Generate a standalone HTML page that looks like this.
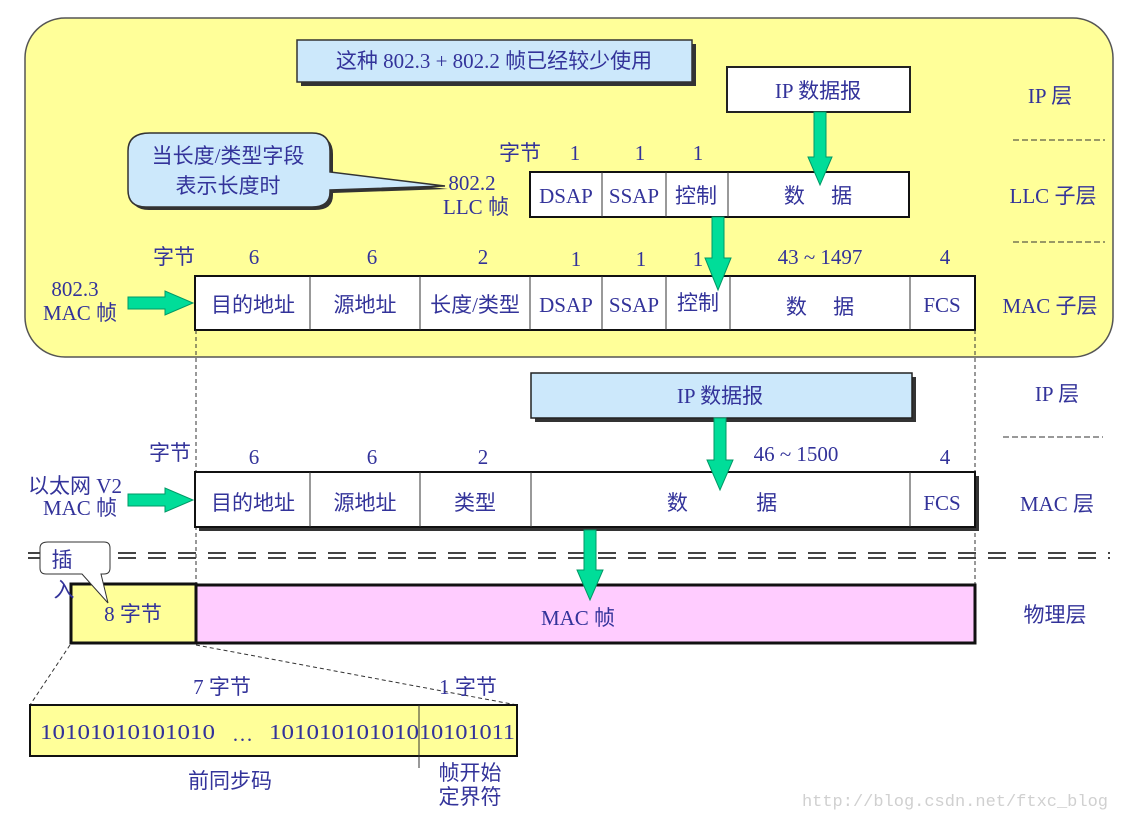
<!DOCTYPE html>
<html><head><meta charset="utf-8"><style>
html,body{margin:0;padding:0;background:#fff;}
svg{display:block;}
text{font-family:"Liberation Serif","Noto Sans CJK SC",serif;font-size:21px;fill:#33339a;}
</style></head><body>
<svg width="1135" height="817" viewBox="0 0 1135 817" xmlns="http://www.w3.org/2000/svg">
<rect x="25" y="18" width="1088" height="339" rx="40" fill="#ffff99" stroke="#555" stroke-width="1.5"/>
<rect x="301" y="44" width="395" height="42" fill="#333"/>
<rect x="297" y="40" width="395" height="42" fill="#cce8fb" stroke="#333" stroke-width="1.5"/>
<text x="494" y="68" text-anchor="middle">这种 802.3 + 802.2 帧已经较少使用</text>
<rect x="727" y="67" width="183" height="45" fill="#fff" stroke="#222" stroke-width="2"/>
<text x="818" y="98" text-anchor="middle">IP 数据报</text>
<text x="1050" y="103" text-anchor="middle">IP 层</text>
<line x1="1013" y1="140" x2="1105" y2="140" stroke="#333" stroke-dasharray="6,3"/>
<text x="1053" y="203" text-anchor="middle">LLC 子层</text>
<line x1="1013" y1="242" x2="1105" y2="242" stroke="#333" stroke-dasharray="6,3"/>
<text x="1050" y="313" text-anchor="middle">MAC 子层</text>
<path d="M150,133 H312 Q330,133 330,151 V172 L445,186 L330,190 V192 Q330,207 312,207 H146 Q128,207 128,190 V151 Q128,133 150,133 Z" fill="#333" transform="translate(3,3)"/>
<path d="M150,133 H312 Q330,133 330,151 V172 L445,186 L330,190 V192 Q330,207 312,207 H146 Q128,207 128,190 V151 Q128,133 150,133 Z" fill="#cce8fb" stroke="#333" stroke-width="1.5"/>
<text x="228" y="163" text-anchor="middle">当长度/类型字段</text>
<text x="228" y="193" text-anchor="middle">表示长度时</text>
<text x="472" y="190" text-anchor="middle">802.2</text>
<text x="476" y="214" text-anchor="middle">LLC 帧</text>
<text x="520" y="160" text-anchor="middle">字节</text>
<text x="575" y="160" text-anchor="middle">1</text>
<text x="640" y="160" text-anchor="middle">1</text>
<text x="698" y="160" text-anchor="middle">1</text>
<rect x="530" y="172" width="379" height="45" fill="#fff" stroke="#111" stroke-width="2"/>
<g stroke="#333" stroke-width="1"><line x1="602" y1="172" x2="602" y2="217"/><line x1="666" y1="172" x2="666" y2="217"/><line x1="728" y1="172" x2="728" y2="217"/></g>
<text x="566" y="203" text-anchor="middle">DSAP</text>
<text x="634" y="203" text-anchor="middle">SSAP</text>
<text x="696" y="203" text-anchor="middle">控制</text>
<text x="818" y="203" text-anchor="middle">数　 据</text>
<text x="174" y="264" text-anchor="middle">字节</text>
<text x="254" y="264" text-anchor="middle">6</text>
<text x="372" y="264" text-anchor="middle">6</text>
<text x="483" y="264" text-anchor="middle">2</text>
<text x="576" y="266" text-anchor="middle">1</text>
<text x="641" y="266" text-anchor="middle">1</text>
<text x="698" y="266" text-anchor="middle">1</text>
<text x="820" y="264" text-anchor="middle">43 ~ 1497</text>
<text x="945" y="264" text-anchor="middle">4</text>
<rect x="195" y="276" width="780" height="54" fill="#fff" stroke="#111" stroke-width="2"/>
<g stroke="#333" stroke-width="1"><line x1="310" y1="276" x2="310" y2="330"/><line x1="420" y1="276" x2="420" y2="330"/><line x1="530" y1="276" x2="530" y2="330"/><line x1="602" y1="276" x2="602" y2="330"/><line x1="666" y1="276" x2="666" y2="330"/><line x1="730" y1="276" x2="730" y2="330"/><line x1="910" y1="276" x2="910" y2="330"/></g>
<text x="253" y="312" text-anchor="middle">目的地址</text>
<text x="365" y="312" text-anchor="middle">源地址</text>
<text x="475" y="312" text-anchor="middle">长度/类型</text>
<text x="566" y="312" text-anchor="middle">DSAP</text>
<text x="634" y="312" text-anchor="middle">SSAP</text>
<text x="698" y="310" text-anchor="middle">控制</text>
<text x="820" y="314" text-anchor="middle">数　 据</text>
<text x="942" y="312" text-anchor="middle">FCS</text>
<text x="75" y="296" text-anchor="middle">802.3</text>
<text x="80" y="320" text-anchor="middle">MAC 帧</text>
<line x1="196" y1="330" x2="196" y2="585" stroke="#333" stroke-dasharray="4,3"/>
<line x1="975" y1="330" x2="975" y2="585" stroke="#333" stroke-dasharray="4,3"/>
<rect x="535" y="377" width="381" height="45" fill="#333"/>
<rect x="531" y="373" width="381" height="45" fill="#cce8fb" stroke="#222" stroke-width="1.5"/>
<text x="720" y="403" text-anchor="middle">IP 数据报</text>
<text x="1057" y="401" text-anchor="middle">IP 层</text>
<line x1="1003" y1="437" x2="1103" y2="437" stroke="#333" stroke-dasharray="6,3"/>
<text x="1057" y="511" text-anchor="middle">MAC 层</text>
<text x="170" y="460" text-anchor="middle">字节</text>
<text x="254" y="464" text-anchor="middle">6</text>
<text x="372" y="464" text-anchor="middle">6</text>
<text x="483" y="464" text-anchor="middle">2</text>
<text x="796" y="461" text-anchor="middle">46 ~ 1500</text>
<text x="945" y="464" text-anchor="middle">4</text>
<rect x="199" y="476" width="780" height="55" fill="#333"/>
<rect x="195" y="472" width="780" height="55" fill="#fff" stroke="#111" stroke-width="2"/>
<g stroke="#333" stroke-width="1"><line x1="310" y1="472" x2="310" y2="527"/><line x1="420" y1="472" x2="420" y2="527"/><line x1="531" y1="472" x2="531" y2="527"/><line x1="910" y1="472" x2="910" y2="527"/></g>
<text x="253" y="510" text-anchor="middle">目的地址</text>
<text x="365" y="510" text-anchor="middle">源地址</text>
<text x="475" y="510" text-anchor="middle">类型</text>
<text x="722" y="510" text-anchor="middle">数　　　 据</text>
<text x="942" y="510" text-anchor="middle">FCS</text>
<text x="75" y="493" text-anchor="middle">以太网 V2</text>
<text x="80" y="515" text-anchor="middle">MAC 帧</text>
<line x1="28" y1="553" x2="1110" y2="553" stroke="#444" stroke-width="2" stroke-dasharray="18,12"/>
<line x1="28" y1="558" x2="1110" y2="558" stroke="#444" stroke-width="2" stroke-dasharray="18,12"/>
<rect x="196" y="585" width="779" height="58" fill="#ffccff" stroke="#111" stroke-width="3"/>
<rect x="71" y="584" width="125" height="59" fill="#ffff99" stroke="#111" stroke-width="3"/>
<text x="133" y="621" text-anchor="middle">8 字节</text>
<text x="578" y="625" text-anchor="middle">MAC 帧</text>
<text x="1055" y="622" text-anchor="middle">物理层</text>
<path d="M48,542 H104 Q110,542 110,548 V568 Q110,574 104,574 H101 L108,603 L82,574 H46 Q40,574 40,568 V548 Q40,542 48,542 Z" fill="#fff" stroke="#333" stroke-width="1"/>
<text x="62" y="567" text-anchor="middle">插</text>
<text x="64" y="597" text-anchor="middle">入</text>
<line x1="70" y1="645" x2="30" y2="705" stroke="#333" stroke-dasharray="4,3"/>
<line x1="196" y1="645" x2="517" y2="705" stroke="#333" stroke-dasharray="4,3"/>
<text x="222" y="694" text-anchor="middle">7 字节</text>
<text x="468" y="694" text-anchor="middle">1 字节</text>
<rect x="30" y="705" width="487" height="51" fill="#ffff99" stroke="#111" stroke-width="2"/>
<line x1="419" y1="705" x2="419" y2="768" stroke="#333" stroke-width="1"/>
<text x="40" y="739" textLength="175" lengthAdjust="spacingAndGlyphs">10101010101010</text>
<text x="232" y="741">…</text>
<text x="269" y="739" textLength="150" lengthAdjust="spacingAndGlyphs">101010101010</text>
<text x="419" y="739" textLength="96" lengthAdjust="spacingAndGlyphs">10101011</text>
<text x="230" y="788" text-anchor="middle">前同步码</text>
<text x="470" y="780" text-anchor="middle">帧开始</text>
<text x="470" y="804" text-anchor="middle">定界符</text>
<g fill="#00dd99" stroke="#009966" stroke-width="1">
<polygon points="814,112 826,112 826,157 832,157 820,185 808,157 814,157"/>
<polygon points="712,217 724,217 724,258 731,258 718,290 705,258 712,258"/>
<polygon points="714,418 726,418 726,460 733,460 720,490 707,460 714,460"/>
<polygon points="584,530 596,530 596,570 603,570 590,600 577,570 584,570"/>
<polygon points="128,297 165,297 165,291 193,303 165,315 165,309 128,309"/>
<polygon points="128,494 165,494 165,488 193,500 165,512 165,506 128,506"/>
</g>
<text x="1108" y="806" text-anchor="end" style="font-family:'Liberation Mono',monospace;font-size:17px;fill:#d0d0d0">http://blog.csdn.net/ftxc_blog</text>
</svg>
</body></html>
